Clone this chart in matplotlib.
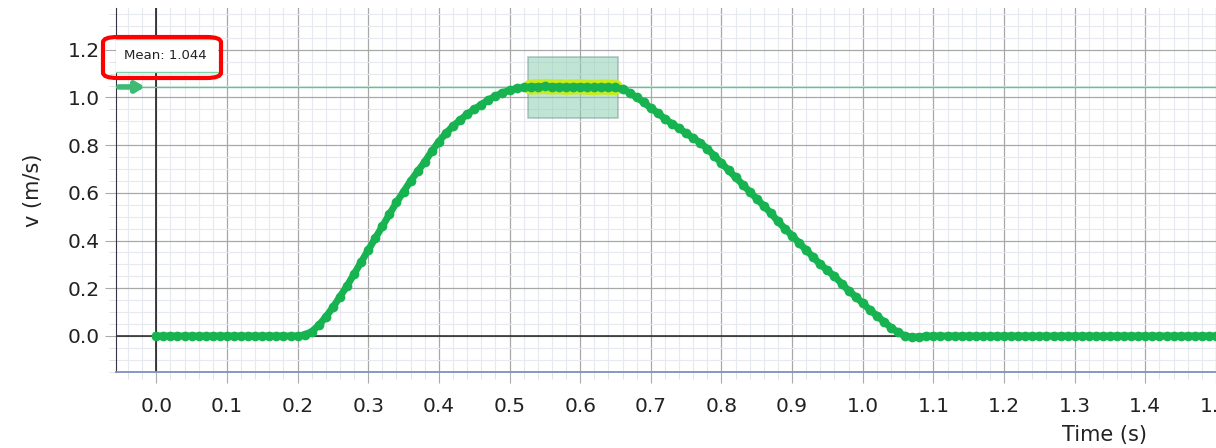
from matplotlib import pyplot as plt
from matplotlib.patches import FancyBboxPatch, Rectangle
from matplotlib.ticker import MultipleLocator
import numpy as np

# Sampled time (s), one reading every 0.01 s
time = np.round(np.arange(0, 151) * 0.01, 2)

# Velocity readings (m/s)
v_rest_start = [0.0] * 21
v_rise = [0.005, 0.018, 0.045, 0.08, 0.12, 0.165, 0.21, 0.26, 0.31, 0.36,
          0.41, 0.46, 0.51, 0.56, 0.605, 0.65, 0.69, 0.73, 0.775, 0.815,
          0.85, 0.88, 0.905, 0.93, 0.95, 0.97, 0.99, 1.005, 1.02, 1.03,
          1.038, 1.042]
v_top = [1.044, 1.045, 1.046, 1.044, 1.045, 1.043, 1.044, 1.045, 1.043,
         1.042, 1.044, 1.043, 1.042]
v_fall = [1.035, 1.02, 1.0, 0.98, 0.955, 0.935, 0.91, 0.89, 0.87, 0.85,
          0.83, 0.81, 0.785, 0.755, 0.725, 0.695, 0.665, 0.635, 0.605, 0.575,
          0.545, 0.515, 0.48, 0.45, 0.42, 0.39, 0.36, 0.33, 0.30, 0.275,
          0.25, 0.22, 0.19, 0.165, 0.137, 0.11, 0.085, 0.06, 0.035, 0.015,
          0.0, -0.005, -0.003]
v_rest_end = [0.0] * 42
velocity = np.array(v_rest_start + v_rise + v_top + v_fall + v_rest_end)

# Selected region and its statistic
sel_start, sel_end = 0.53, 0.65
mean_value = 1.044
mean_label = "Mean: 1.044"

x_ticks = np.round(np.arange(0, 1.51, 0.1), 1)
y_ticks = np.round(np.arange(0, 1.21, 0.2), 1)

green = "#17b350"
plt.rcParams["font.family"] = "DejaVu Sans"

fig = plt.figure(figsize=(12.16, 4.48), dpi=100)
ax = fig.add_axes([116 / 1216, 1 - 372 / 448, 1 - 116 / 1216, 364 / 448])
ax.set_xlim(-0.057, 1.492)
ax.set_ylim(-0.151, 1.375)

# Grid
ax.xaxis.set_major_locator(MultipleLocator(0.1))
ax.xaxis.set_minor_locator(MultipleLocator(0.02))
ax.yaxis.set_major_locator(MultipleLocator(0.2))
ax.yaxis.set_minor_locator(MultipleLocator(0.05))
ax.grid(which="minor", color="#e6e9ef", lw=0.8)
ax.grid(which="major", color="#a8a8a8", lw=0.9)
ax.set_axisbelow(True)
ax.set_xticks(x_ticks)
ax.set_yticks(y_ticks)
ax.set_xticklabels([f"{t:.1f}" for t in x_ticks])
ax.set_yticklabels([f"{t:.1f}" for t in y_ticks])

# Zero lines
ax.axhline(0, color="#222222", lw=1.1, zorder=2)
ax.axvline(0, color="#111111", lw=1.1, zorder=2)

# Selection box and mean line
ax.add_patch(Rectangle((sel_start - 0.004, 0.914), sel_end - sel_start + 0.008,
                       1.17 - 0.914, facecolor="#8fd0b4", alpha=0.55,
                       edgecolor="#7a9a9a", lw=1.2, zorder=3))
ax.axhline(mean_value, color="#5cc98a", lw=1.0, zorder=3)
ax.annotate("", xy=(-0.012, mean_value), xytext=(-0.057, mean_value),
            arrowprops=dict(arrowstyle="-|>,head_length=0.5,head_width=0.3",
                            color="#3dbb72", lw=4), zorder=4)

# Data
sel = (time >= sel_start) & (time <= sel_end)
ax.plot(time[sel], velocity[sel], color="#c8ec1c", lw=11, solid_capstyle="round",
        zorder=4)
ax.plot(time, velocity, color=green, lw=5, marker="o", ms=7,
        markeredgewidth=0, zorder=5)

# Mean label box (axes spans pixel rows 8..372)
box_top = (372 - 39) / 364
box_bottom = (372 - 72) / 364
ax.add_patch(Rectangle((0, box_bottom), 0.093, box_top - box_bottom,
                       transform=ax.transAxes, facecolor="white",
                       edgecolor="none", zorder=6))
ax.plot([0, 0.093], [box_bottom, box_bottom], transform=ax.transAxes,
        color="#7fd3a2", lw=1, zorder=7)
ax.plot([0, 0.093], [box_top, box_top], transform=ax.transAxes,
        color="#7fd3a2", lw=1, zorder=7)
ax.text(0.007, (box_top + box_bottom) / 2, mean_label, transform=ax.transAxes,
        fontsize=9.5, va="center", ha="left", color="#222222", zorder=8)
fig.patches.append(FancyBboxPatch((103 / 1216, 1 - 78 / 448), 118 / 1216, 41 / 448,
                                  boxstyle="round,pad=0,rounding_size=0.012",
                                  transform=fig.transFigure, facecolor="none",
                                  edgecolor="#ff0000", lw=3, zorder=10))

# Axes styling
ax.spines["top"].set_visible(False)
ax.spines["right"].set_visible(False)
ax.spines["left"].set_color("#333344")
ax.spines["bottom"].set_color("#7f8fc0")
ax.spines["bottom"].set_linewidth(1.3)
ax.tick_params(which="major", length=8, color="#aaaaaa", labelsize=14.5,
               labelcolor="#222222")
ax.tick_params(axis="x", which="major", pad=10)
ax.tick_params(which="minor", length=5, color="#dddddd")

ax.set_ylabel("v (m/s)", fontsize=15, color="#222222", labelpad=18)
fig.text(1105 / 1216, 1 - 435 / 448, "Time (s)", fontsize=15, color="#222222",
         ha="center", va="center")

plt.savefig("out.png", dpi=100)
